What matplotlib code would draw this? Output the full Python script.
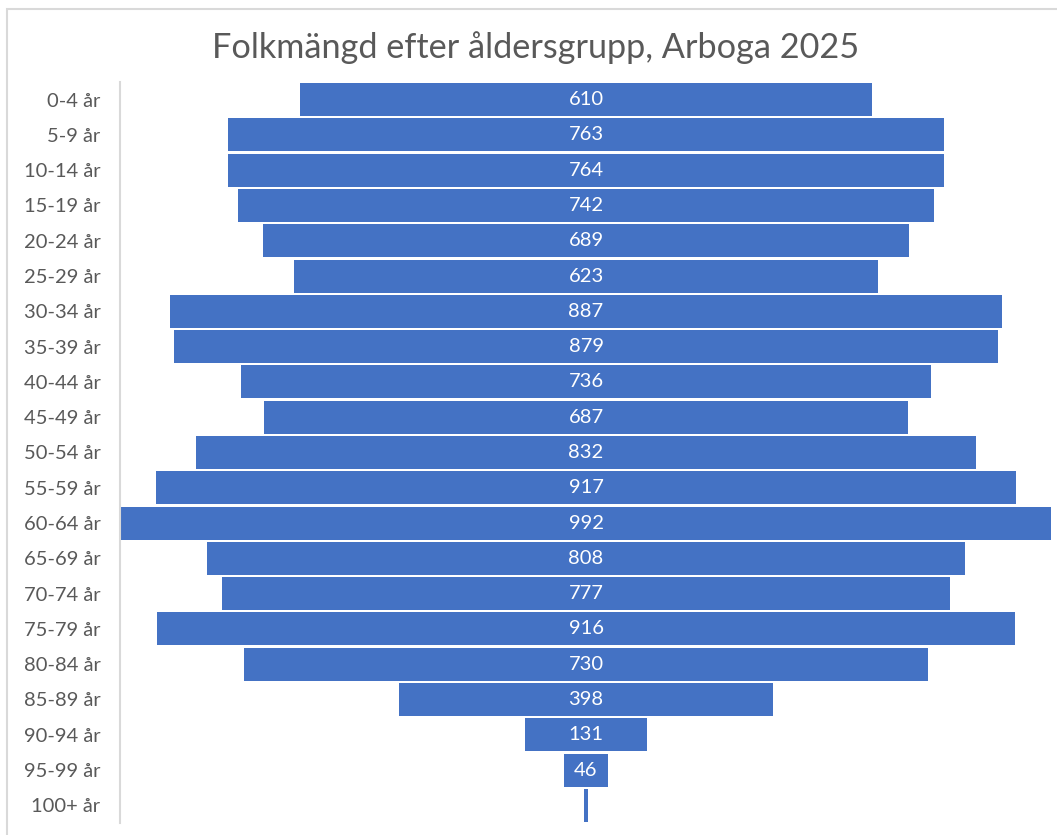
import matplotlib
matplotlib.use("Agg")
import matplotlib.pyplot as plt
from matplotlib.patches import Rectangle

# data
age_groups = ["0-4 år", "5-9 år", "10-14 år", "15-19 år", "20-24 år", "25-29 år",
              "30-34 år", "35-39 år", "40-44 år", "45-49 år", "50-54 år", "55-59 år",
              "60-64 år", "65-69 år", "70-74 år", "75-79 år", "80-84 år", "85-89 år",
              "90-94 år", "95-99 år", "100+ år"]
population = [610, 763, 764, 742, 689, 623, 887, 879, 736, 687, 832, 917,
              992, 808, 777, 916, 730, 398, 131, 46, 5]
show_label = [True] * 20 + [False]

title = "Folkmängd efter åldersgrupp, Arboga 2025"

plt.rcParams['font.family'] = ['Lato', 'DejaVu Sans']

W, H = 1057, 835
fig = plt.figure(figsize=(W / 100, H / 100), dpi=100)
fig.patch.set_facecolor("white")

# outer chart border (cropped on right/bottom in the reference)
fig.patches.append(Rectangle((6.5 / W, -0.1), 1.2, 1 - 8.5 / H + 0.1,
                             transform=fig.transFigure, fill=False,
                             edgecolor="#D9D9D9", linewidth=1.5))

ax = fig.add_axes([121 / W, 1 - 823 / H, (1051 - 121) / W, (823 - 82) / H])

bar_color = "#4472C4"
ypos = list(range(len(age_groups)))
lefts = [-v / 2 for v in population]
ax.barh(ypos, population, left=lefts, height=0.935, color=bar_color)

for y, v, s in zip(ypos, population, show_label):
    if s:
        ax.text(0, y, str(v), ha="center", va="center", color="white", fontsize=14.5)

ax.set_xlim(-496, 496)
ax.set_ylim(len(age_groups) - 0.5, -0.5)
ax.set_yticks(ypos)
ax.set_yticklabels(age_groups)
ax.tick_params(axis="y", length=0, pad=14, labelsize=14.5, labelcolor="#595959")
ax.set_xticks([])

for side in ["top", "right", "bottom"]:
    ax.spines[side].set_visible(False)
ax.spines["left"].set_color("#D9D9D9")
ax.spines["left"].set_linewidth(1.5)
ax.spines["left"].set_position(("data", -497))

fig.text(536 / W, 1 - 48 / H, title, ha="center", va="center",
         fontsize=24.7, color="#595959")

fig.savefig("out.png", dpi=100)
